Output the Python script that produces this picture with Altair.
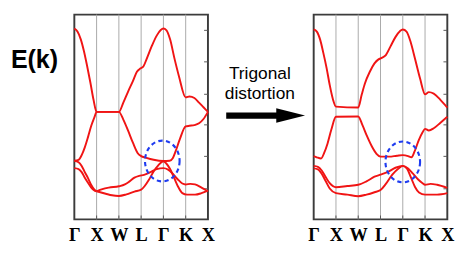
import altair as alt
import pandas as pd

# ---------------- data ----------------
k_labels = ["Γ", "X", "W", "L", "Γ", "K", "X"]
k_ticks = [0, 1, 2, 3, 4, 5, 6]
inner_lines = [1, 2, 3, 4, 5]
e_ticks = [33, 68, 102, 135, 170, 204]

# left panel (cubic) bands: k along path, energy (arb. units)
L1_k = [0, .14, .29, .43, .57, .72, .86, 1.0, 2.0, 2.2, 2.41, 2.63, 2.81, 2.96, 3.1, 3.24, 3.49, 3.7, 3.88, 4.0,
        4.13, 4.3, 4.49, 4.7, 5.0, 5.17, 5.39, 5.6, 5.8, 6.0]
L1_e = [206, 202.7, 194.3, 181.7, 166, 147.7, 129.3, 116, 116, 126, 137.7, 149.3, 159.3, 162.7, 165, 172.7, 187.7,
        198.3, 204.3, 206, 204.3, 194.3, 174.3, 154.3, 131.7, 132.7, 131, 126, 121, 116]

L2_k = [0, .19, .33, .47, .62, .76, .9, 1, 2, 2.2, 2.41, 2.63, 2.84, 3.0, 3.2, 3.56, 4.0, 4.28, 4.42, 4.56, 4.73,
        5.0, 5.17, 5.39, 5.6, 5.8, 6]
L2_e = [63.3, 64.3, 69.3, 77.7, 89.3, 101, 110, 116, 116, 107.7, 96, 82.7, 71.7, 68.3, 66.7, 64.3, 63, 63.3, 66,
        74.3, 86, 100.3, 101, 101.7, 103.7, 108.3, 116]

L3_k = [0, .19, .33, .47, .62, .76, .9, 1]
L3_e = [63.3, 61.7, 57.7, 51, 44.3, 37, 32, 30.3]

L4_k = [0, .19, .33, .47, .62, .76, .9, 1]
L4_e = [55.3, 54.3, 51, 45, 39.3, 34.3, 31.3, 30.3]

L5_k = [1, 1.26, 1.55, 2.0, 2.27, 2.48, 2.7, 2.91, 3.13, 3.42, 3.7, 4.0, 4.21, 4.42, 4.64, 4.85, 5.0, 5.21, 5.42,
        5.71, 6]
L5_e = [30.3, 32.7, 34.3, 35.7, 37.7, 41, 45, 47, 48, 51, 54.3, 55.3, 53.7, 49.3, 43.3, 38.7, 37.7, 38.3, 37.7,
        34.3, 30.3]

L6_k = [1, 1.41, 1.69, 2.0, 2.34, 2.7, 3.0, 3.16, 3.35, 3.56, 3.77, 4.0, 4.13, 4.3, 4.49, 4.68, 4.85, 5.06, 5.42,
        5.71, 6]
L6_e = [30.3, 27.7, 26, 25.3, 27, 30, 32, 36, 42.7, 51.7, 58.3, 62.7, 60.3, 54.3, 44.3, 34.3, 28.3, 26.7, 26.7,
        28.3, 31]

# right panel (trigonally distorted) bands
R1_k = [0, .14, .29, .43, .58, .72, .86, 1, 2, 2.16, 2.3, 2.52, 2.73, 2.91, 3.06, 3.24, 3.45, 3.67, 3.88, 4.0,
        4.17, 4.35, 4.55, 4.78, 5.0, 5.17, 5.39, 5.68, 6]
R1_e = [205, 202.7, 194, 180, 163.3, 145, 130, 121.7, 120.7, 135, 146.7, 159.3, 168.3, 172.7, 174.3, 177.3, 186.7,
        196.7, 203.3, 205, 202.7, 191.7, 173.3, 151.7, 135, 137.3, 135.7, 129.3, 120.7]

R2_k = [0, .14, .33, .47, .62, .79, 1, 2, 2.19, 2.39, 2.62, 2.82, 3.0, 3.38, 3.74, 4.0, 4.24, 4.39, 4.53, 4.71,
        4.89, 5.0, 5.17, 5.39, 5.68, 6]
R2_e = [68.3, 67, 65.7, 71.7, 81.7, 96.7, 110.7, 111, 101.7, 90, 78.3, 70.7, 67.7, 67.7, 68.7, 69.3, 68.3, 67,
        73.3, 85, 94, 97.7, 96, 98.3, 104, 110.7]

R3_k = [0, .19, .36, .53, .72, 1, 1.51, 2, 2.37, 2.73, 3.0, 3.31, 3.67, 4.0, 4.24, 4.46, 4.68, 4.89, 5.0, 5.25,
        5.54, 6]
R3_e = [57.7, 56.7, 52.7, 46, 39, 34.7, 36, 37.3, 41, 46, 48.3, 51, 55.7, 57.7, 55, 49.3, 43.3, 39, 37.3, 38.3,
        37.3, 34]

R4_k = [0, .19, .36, .53, .72, 1, 1.51, 2, 2.37, 2.73, 3.0, 3.24, 3.53, 3.81, 4.0, 4.2, 4.37, 4.55, 4.73, 5.0,
        5.54, 6]
R4_e = [55, 54, 49.3, 41.7, 33.3, 28.3, 26.7, 25, 26.7, 29.3, 31.7, 38.3, 48.3, 55, 57.7, 54.3, 45, 35, 29, 26.7,
        26.7, 28.3]

# highlighted region around Gamma (centre k, centre E)
left_circle = {"k": [3.95], "E": [63]}
right_circle = {"k": [4.0], "E": [62]}

ek_text = "E(k)"
arrow_text = ["Trigonal", "distortion"]

# ---------------- styling ----------------
W, H = 139, 213
RED = "#f01414"
BLUE = "#1f3cf0"
FRAME = "#3c3c3c"
ELLIPSE = ("M 1 0 C 1 0.65 0.552 1.18 0 1.18 C -0.552 1.18 -1 0.65 -1 0 "
           "C -1 -0.65 -0.552 -1.18 0 -1.18 C 0.552 -1.18 1 -0.65 1 0 Z")
ARROW = ("M -1 -0.08 L 0.27 -0.08 L 0.27 -0.185 L 1 0 L 0.27 0.185 L 0.27 0.08 L -1 0.08 Z")

label_expr = "[" + ",".join("'%s'" % s for s in k_labels) + "][datum.value]"
xscale = alt.Scale(domain=[0, 6], nice=False, zero=False)
yscale = alt.Scale(domain=[0, 221], nice=False, zero=False)


def x_enc():
    return alt.X("k:Q", scale=xscale,
                 axis=alt.Axis(values=k_ticks, labelExpr=label_expr, grid=False, ticks=False, tickSize=0,
                               domain=False, labelPadding=7, labelFont="Liberation Serif, serif",
                               labelFontSize=19, labelFontWeight="bold", labelColor="black", title=None,
                               labelFlush=False, labelOverlap=False, labelBound=False))


def y_enc():
    return alt.Y("E:Q", scale=yscale, axis=None)


def band_frame(bands):
    rows = []
    for i, (ks, es) in enumerate(bands):
        for k, e in zip(ks, es):
            rows.append({"band": i, "k": k, "E": e})
    return pd.DataFrame(rows)


def panel(bands, circle, extras=()):
    grid = alt.Chart(pd.DataFrame({"k": inner_lines})).mark_rule(
        color="#a8a8a8", strokeWidth=1).encode(x=x_enc())
    bticks = alt.Chart(pd.DataFrame({"k": inner_lines})).mark_rule(
        color="#555555", strokeWidth=1).encode(x=x_enc(), y=alt.value(H - 4), y2=alt.value(H))
    rticks = alt.Chart(pd.DataFrame({"E": e_ticks})).mark_rule(
        color="#555555", strokeWidth=1).encode(y=y_enc(), x=alt.value(W - 4), x2=alt.value(W))
    lines = alt.Chart(band_frame(bands)).mark_line(
        color=RED, strokeWidth=2, interpolate="monotone").encode(x=x_enc(), y=y_enc(), detail="band:N")
    circ = alt.Chart(pd.DataFrame(circle)).mark_point(
        shape=ELLIPSE, size=1296, filled=False, stroke=BLUE, strokeWidth=2.2,
        strokeDash=[4.5, 3.5], opacity=1).encode(x=x_enc(), y=y_enc())
    return alt.layer(grid, bticks, rticks, lines, circ, *extras).properties(width=W, height=H)


ek = alt.Chart(pd.DataFrame({"t": [ek_text]})).mark_text(
    align="left", baseline="alphabetic", font="Liberation Sans, Arial, sans-serif",
    fontSize=26, fontWeight="bold", color="black").encode(
    x=alt.value(-66), y=alt.value(56), text="t:N")
t1 = alt.Chart(pd.DataFrame({"t": [arrow_text[0]]})).mark_text(
    align="center", baseline="alphabetic", font="Liberation Sans, Arial, sans-serif",
    fontSize=18, color="black").encode(x=alt.value(193), y=alt.value(67), text="t:N")
t2 = alt.Chart(pd.DataFrame({"t": [arrow_text[1]]})).mark_text(
    align="center", baseline="alphabetic", font="Liberation Sans, Arial, sans-serif",
    fontSize=18, color="black").encode(x=alt.value(193), y=alt.value(88), text="t:N")
arrow = alt.Chart(pd.DataFrame({"t": ["arrow"]})).mark_point(
    shape=ARROW, size=6724, filled=True, fill="black", strokeWidth=0, opacity=1).encode(
    x=alt.value(199), y=alt.value(105))

left = panel([(L1_k, L1_e), (L2_k, L2_e), (L3_k, L3_e), (L4_k, L4_e), (L5_k, L5_e), (L6_k, L6_e)],
             left_circle, extras=(ek, t1, t2, arrow))
right = panel([(R1_k, R1_e), (R2_k, R2_e), (R3_k, R3_e), (R4_k, R4_e)], right_circle)

chart = alt.hconcat(left, right, spacing=110, bounds="flush").properties(
    padding={"left": 2, "top": 0, "right": 0, "bottom": 0}
).configure_view(stroke=FRAME, strokeWidth=2)

chart.save("out.html", embed_options={"renderer": "svg", "actions": False})
